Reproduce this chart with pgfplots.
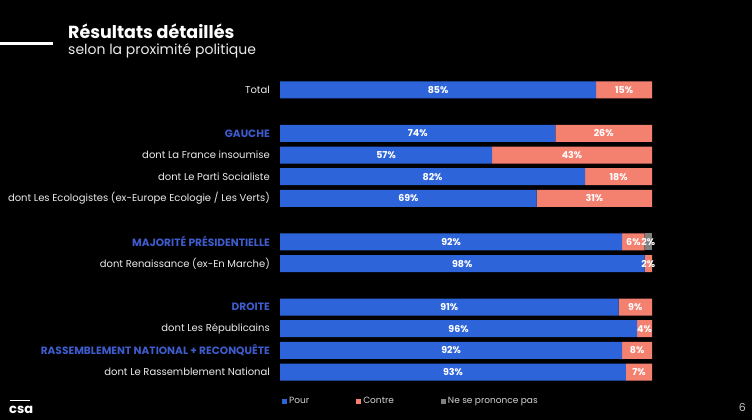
\documentclass[border=0pt]{standalone}
\usepackage{pgfplots}
\pgfplotsset{compat=1.18}
\usepackage{fontspec}
\setmainfont{Poppins}
\definecolor{pourc}{RGB}{46,100,218}
\definecolor{contrec}{RGB}{244,128,112}
\definecolor{nspc}{RGB}{128,128,128}
\definecolor{grpc}{RGB}{62,92,204}
\definecolor{lgtxt}{RGB}{210,210,210}
\newcommand{\grp}[1]{\textcolor{grpc}{\fontsize{10.6}{12}\selectfont\bfseries #1}}
\begin{document}
\begin{tikzpicture}[x=1pt,y=1pt]
\fill[black] (0,0) rectangle (752,420);
% title
\fill[white] (0,374.5) rectangle (53,377.5);
\node[anchor=base west, inner sep=0pt, text=white, font=\fontsize{17.5}{21}\selectfont\bfseries] at (68,381) {Résultats détaillés};
\node[anchor=base west, inner sep=0pt, text=white!92!black, font=\fontsize{14}{17}\selectfont] at (68,365) {selon la proximité politique};
% footer
\node[anchor=base west, inner sep=0pt, text=white, font=\fontsize{13}{15}\selectfont\bfseries] at (9,6) {csa};
\fill[white] (10,19) rectangle (30,20.3);
\node[anchor=base east, inner sep=0pt, text=white!75!black, font=\fontsize{11}{13}\selectfont] at (746,8) {6};
\begin{axis}[
  at={(280pt,37pt)}, anchor=south west,
  scale only axis, width=372pt, height=304pt,
  xmin=0, xmax=100, ymin=-0.5, ymax=13.5, y dir=reverse,
  xbar stacked, bar width=17pt,
  axis line style={draw=none}, tick style={draw=none},
  xtick=\empty,
  ytick={0,2,3,4,5,7,8,10,11,12,13},
  yticklabels={{Total},{\grp{GAUCHE}},{dont La France insoumise},{dont Le Parti Socialiste},{dont Les Ecologistes (ex-Europe Ecologie / Les Verts)},{\grp{MAJORITÉ PRÉSIDENTIELLE}},{dont Renaissance (ex-En Marche)},{\grp{DROITE}},{dont Les Républicains},{\grp{RASSEMBLEMENT NATIONAL + RECONQUÊTE}},{dont Le Rassemblement National}},
  y tick label style={inner sep=0pt, xshift=-10pt, text=white!92!black, font=\fontsize{10}{12}\selectfont},
  legend columns=3,
  legend style={at={(0,0)}, anchor=north west, xshift=2pt, yshift=-12pt, draw=none, fill=none, text=lgtxt, font=\fontsize{9}{11}\selectfont, inner sep=0pt, /tikz/every even column/.append style={column sep=45pt}},
]
\addplot[draw=none, fill=pourc, legend image code/.code={\fill[pourc] (0pt,-2.5pt) rectangle (5pt,2.5pt);}] coordinates {(85,0) (74,2) (57,3) (82,4) (69,5) (92,7) (98,8) (91,10) (96,11) (92,12) (93,13)};
\addlegendentry{Pour}
\addplot[draw=none, fill=contrec, legend image code/.code={\fill[contrec] (0pt,-2.5pt) rectangle (5pt,2.5pt);}] coordinates {(15,0) (26,2) (43,3) (18,4) (31,5) (6,7) (2,8) (9,10) (4,11) (8,12) (7,13)};
\addlegendentry{Contre}
\addplot[draw=none, fill=nspc, legend image code/.code={\fill[nspc] (0pt,-2.5pt) rectangle (5pt,2.5pt);}] coordinates {(0,0) (0,2) (0,3) (0,4) (0,5) (2,7) (0,8) (0,10) (0,11) (0,12) (0,13)};
\addlegendentry{Ne se prononce pas}
\end{axis}
\begin{axis}[
  at={(280pt,37pt)}, anchor=south west,
  scale only axis, width=372pt, height=304pt,
  xmin=0, xmax=100, ymin=-0.5, ymax=13.5, y dir=reverse,
  hide axis,
  /pgf/number format/assume math mode=true,
]
\addplot[draw=none, mark=none, point meta=explicit,
  nodes near coords={\pgfmathprintnumber[assume math mode=true]{\pgfplotspointmeta}\%},
  nodes near coords align=center,
  every node near coord/.append style={anchor=center, text=white, inner sep=0pt, font=\fontsize{9.5}{11}\selectfont\bfseries}]
  table[meta=v] {
x y v
42.5 0 85
92.5 0 15
37 2 74
87 2 26
28.5 3 57
78.5 3 43
41 4 82
91 4 18
34.5 5 69
84.5 5 31
46 7 92
95 7 6
99 7 2
49 8 98
99 8 2
45.5 10 91
95.5 10 9
48 11 96
98 11 4
46 12 92
96 12 8
46.5 13 93
96.5 13 7
};
\end{axis}
\end{tikzpicture}
\end{document}
